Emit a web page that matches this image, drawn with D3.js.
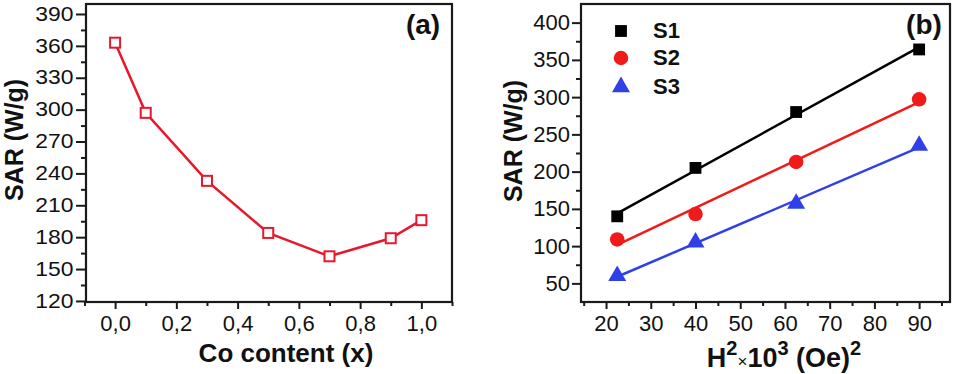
<!DOCTYPE html>
<html>
<head>
<meta charset="utf-8">
<script src="https://cdn.jsdelivr.net/npm/d3@7"></script>
<style>
  body { margin: 0; background: #fff; }
  svg text { font-family: "Liberation Sans", Arial, sans-serif; fill: #111; }
</style>
</head>
<body>
<svg id="chart" width="953" height="374"></svg>
<script>
// panel (a): SAR vs Co content
const coContent = [0, 0.1, 0.3, 0.5, 0.7, 0.9, 1.0];
const sarA = [363, 297, 233, 184, 162, 179, 196];
const aXTicks = [0, 0.2, 0.4, 0.6, 0.8, 1.0];
const aXMinor = [-0.1, 0.1, 0.3, 0.5, 0.7, 0.9, 1.1];
const aYTicks = [120, 150, 180, 210, 240, 270, 300, 330, 360, 390];
const aYMinor = [135, 165, 195, 225, 255, 285, 315, 345, 375];

// panel (b): SAR vs H^2
const hSquared = [22.5, 40, 62.5, 90];
const seriesNames = ["S1", "S2", "S3"];
const sarS1 = [140, 205, 280, 364];
const sarS2 = [109, 143, 213, 297];
const sarS3 = [60, 105, 157, 235];
const bXTicks = [20, 30, 40, 50, 60, 70, 80, 90];
const bXMinor = [15, 25, 35, 45, 55, 65, 75, 85, 95];
const bYTicks = [50, 100, 150, 200, 250, 300, 350, 400];
const bYMinor = [75, 125, 175, 225, 275, 325, 375];

const RED = "#e8182c";
const BLUE = "#2f40ea";
const AXIS_COL = "#1a1a1a";

let svg = d3.select("svg#chart");

function comma(d) { return d3.format(".1f")(d).replace(".", ","); }

function styleAxis(g) {
	g.select(".domain").remove();
	g.selectAll("line").attr("stroke", AXIS_COL).attr("stroke-width", 2);
	g.selectAll("text").style("font-size", "22px").attr("fill", "#111");
}

// ---------- panel (a) ----------
let ax = d3.scaleLinear().domain([-0.095, 1.1]).range([86, 452]);
let ay = d3.scaleLinear().domain([119, 399.4]).range([302, 4]);

let pa = svg.append("g");

pa.append("g")
	.attr("transform", "translate(0,302)")
	.call(d3.axisBottom(ax).tickValues(aXMinor).tickSize(4).tickFormat(""))
	.call(styleAxis);
pa.append("g")
	.attr("transform", "translate(0,302)")
	.call(d3.axisBottom(ax).tickValues(aXTicks).tickSize(7).tickPadding(6).tickFormat(comma))
	.call(styleAxis);

pa.append("g")
	.attr("transform", "translate(86,0)")
	.call(d3.axisLeft(ay).tickValues(aYMinor).tickSize(5).tickFormat(""))
	.call(styleAxis);
pa.append("g")
	.attr("transform", "translate(86,0)")
	.call(d3.axisLeft(ay).tickValues(aYTicks).tickSize(10).tickPadding(2))
	.call(styleAxis)
	.selectAll("text").attr("transform", "scale(1.04,0.88)");

pa.append("rect")
	.attr("x", 86).attr("y", 4)
	.attr("width", 452 - 86).attr("height", 302 - 4)
	.attr("fill", "none")
	.attr("stroke", AXIS_COL)
	.attr("stroke-width", 2.2);

let lineA = d3.line()
	.x((d, i) => ax(coContent[i]))
	.y(d => ay(d));

pa.append("path")
	.datum(sarA)
	.attr("d", lineA)
	.attr("fill", "none")
	.attr("stroke", RED)
	.attr("stroke-width", 2.5);

pa.selectAll("rect.pt")
	.data(sarA)
	.join("rect")
	.attr("class", "pt")
	.attr("x", (d, i) => ax(coContent[i]) - 5)
	.attr("y", d => ay(d) - 5)
	.attr("width", 10)
	.attr("height", 10)
	.attr("fill", "white")
	.attr("stroke", RED)
	.attr("stroke-width", 2);

pa.append("text")
	.text("(a)")
	.attr("x", 423)
	.attr("y", 34)
	.attr("text-anchor", "middle")
	.style("font-size", "28px")
	.style("font-weight", "bold");

pa.append("text")
	.text("Co content (x)")
	.attr("x", 286)
	.attr("y", 362)
	.attr("text-anchor", "middle")
	.style("font-size", "26px")
	.style("font-weight", "bold");

pa.append("text")
	.text("SAR (W/g)")
	.attr("transform", "translate(23,140) rotate(-90)")
	.attr("text-anchor", "middle")
	.style("font-size", "25px")
	.style("font-weight", "bold");

// ---------- panel (b) ----------
let bx = d3.scaleLinear().domain([14.4, 96.9]).range([581, 950]);
let by = d3.scaleLinear().domain([25, 425]).range([302, 4]);

let pb = svg.append("g");

pb.append("g")
	.attr("transform", "translate(0,302)")
	.call(d3.axisBottom(bx).tickValues(bXMinor).tickSize(4).tickFormat(""))
	.call(styleAxis);
pb.append("g")
	.attr("transform", "translate(0,302)")
	.call(d3.axisBottom(bx).tickValues(bXTicks).tickSize(7).tickPadding(6))
	.call(styleAxis);

pb.append("g")
	.attr("transform", "translate(581,0)")
	.call(d3.axisLeft(by).tickValues(bYMinor).tickSize(5).tickFormat(""))
	.call(styleAxis);
pb.append("g")
	.attr("transform", "translate(581,0)")
	.call(d3.axisLeft(by).tickValues(bYTicks).tickSize(9).tickPadding(2))
	.call(styleAxis);

pb.append("rect")
	.attr("x", 581).attr("y", 4)
	.attr("width", 950 - 581).attr("height", 302 - 4)
	.attr("fill", "none")
	.attr("stroke", AXIS_COL)
	.attr("stroke-width", 2.2);

let seriesB = [
	{ name: seriesNames[0], values: sarS1, color: "#000", shape: d3.symbolSquare, size: 140 },
	{ name: seriesNames[1], values: sarS2, color: "#f01a1a", shape: d3.symbolCircle, size: 165 },
	{ name: seriesNames[2], values: sarS3, color: BLUE, shape: d3.symbolTriangle, size: 140 }
];

// linear fit through each series
function fit(ys) {
	let mx = d3.mean(hSquared), my = d3.mean(ys);
	let sxy = d3.sum(hSquared, (x, i) => (x - mx) * (ys[i] - my));
	let sxx = d3.sum(hSquared, x => (x - mx) * (x - mx));
	let k = sxy / sxx;
	return x => my + k * (x - mx);
}

seriesB.forEach(s => {
	let f = fit(s.values);
	let x0 = d3.min(hSquared), x1 = d3.max(hSquared);
	pb.append("line")
		.attr("x1", bx(x0)).attr("y1", by(f(x0)))
		.attr("x2", bx(x1)).attr("y2", by(f(x1)))
		.attr("stroke", s.color)
		.attr("stroke-width", 2.5);

	pb.selectAll(null)
		.data(s.values)
		.join("path")
		.attr("d", d3.symbol().type(s.shape).size(s.size))
		.attr("transform", (d, i) => `translate(${bx(hSquared[i])},${by(d)})`)
		.attr("fill", s.color);
});

// legend
let legendY = [31, 58, 87];
seriesB.forEach((s, i) => {
	pb.append("path")
		.attr("d", d3.symbol().type(s.shape).size(s.size))
		.attr("transform", `translate(621,${legendY[i]})`)
		.attr("fill", s.color);
	pb.append("text")
		.text(s.name)
		.attr("x", 653)
		.attr("y", legendY[i] + 7)
		.style("font-size", "22px")
		.style("font-weight", "bold");
});

pb.append("text")
	.text("(b)")
	.attr("x", 924)
	.attr("y", 34)
	.attr("text-anchor", "middle")
	.style("font-size", "28px")
	.style("font-weight", "bold");

pb.append("text")
	.attr("transform", "translate(522,141) rotate(-90)")
	.attr("text-anchor", "middle")
	.style("font-size", "25px")
	.style("font-weight", "bold")
	.text("SAR (W/g)");

let xt = pb.append("text")
	.attr("x", 784)
	.attr("y", 367)
	.attr("text-anchor", "middle")
	.style("font-size", "27px")
	.style("font-weight", "bold");
xt.append("tspan").text("H");
xt.append("tspan").text("2").attr("dy", -12).style("font-size", "20px");
xt.append("tspan").text("\u00d7").attr("dy", 12).style("font-size", "17px").style("font-weight", "normal");
xt.append("tspan").text("10");
xt.append("tspan").text("3").attr("dy", -12).style("font-size", "20px");
xt.append("tspan").text(" (Oe)").attr("dy", 12);
xt.append("tspan").text("2").attr("dy", -12).style("font-size", "20px");
</script>
</body>
</html>
